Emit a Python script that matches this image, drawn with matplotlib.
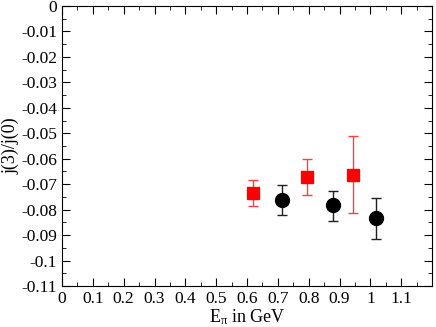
import matplotlib
matplotlib.use('Agg')
import matplotlib.pyplot as plt
import numpy as np
from matplotlib.ticker import MultipleLocator

plt.rcParams['font.family'] = ['Liberation Serif', 'DejaVu Serif']
plt.rcParams['mathtext.fontset'] = 'custom'
plt.rcParams['mathtext.rm'] = 'Liberation Serif'
plt.rcParams['mathtext.it'] = 'Liberation Serif'

# red squares
red_x = [0.618, 0.796, 0.943]
red_y = [-0.0735, -0.0673, -0.0663]
red_lo = [0.0051, 0.0071, 0.0151]
red_hi = [0.0051, 0.0070, 0.0152]

# black circles
blk_x = [0.715, 0.879, 1.017]
blk_y = [-0.0763, -0.0783, -0.0833]
blk_lo = [0.0060, 0.0060, 0.0082]
blk_hi = [0.0060, 0.0058, 0.0080]

fig = plt.figure(figsize=(4.36, 3.27), dpi=100)
ax = fig.add_axes([62/436, 1-286/327, 370/436, 280/327])

ax.errorbar(red_x, red_y, yerr=[red_lo, red_hi], fmt='s', color='red',
            ecolor='#ff4040', ms=8, capsize=3.5, elinewidth=1, capthick=1)
ax.errorbar(blk_x, blk_y, yerr=[blk_lo, blk_hi], fmt='o', color='black',
            ecolor='#202020', ms=10, capsize=3.5, elinewidth=1, capthick=1)

ax.set_xlim(0, 1.2)
ax.set_ylim(-0.11, 0)
ax.xaxis.set_minor_locator(MultipleLocator(0.05))
ax.yaxis.set_minor_locator(MultipleLocator(0.005))

xt = np.arange(0, 1.15, 0.1)
ax.set_xticks(xt)
ax.set_xticklabels(['0'] + ['%g' % round(v, 1) for v in xt[1:]])
yt = np.arange(0, -0.1101, -0.01)
ax.set_yticks(yt)
ax.set_yticklabels(['0'] + ['%g' % round(v, 2) for v in yt[1:]])

ax.tick_params(which='both', direction='in', top=True, right=True, labelsize=12.5)
ax.tick_params(which='major', length=6)
ax.tick_params(which='minor', length=3)

ax.set_xlabel(r'E$_{\mathrm{\pi}}$ in GeV', fontsize=13, labelpad=0)
ax.set_ylabel('j(3)/j(0)', fontsize=13, labelpad=1)

fig.savefig('out.png', dpi=100)
